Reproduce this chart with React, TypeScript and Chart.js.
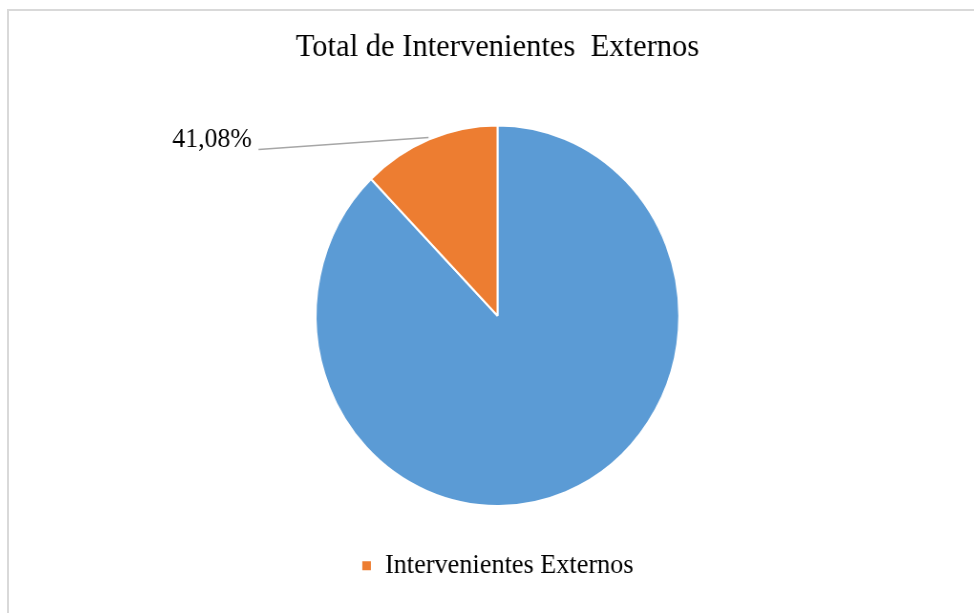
import React, { useEffect, useRef } from "react";
import { Chart, registerables } from "chart.js";

Chart.register(...registerables);

const titleText = "Total de Intervenientes  Externos";
const categories = ["", "Intervenientes Externos"];
const values = [87.75, 12.25];
const sliceColors = ["#5B9BD5", "#ED7D31"];
const dataLabels = ["", "41,08%"];

const FONT = "'Liberation Serif', 'Times New Roman', serif";

const leaderLabelPlugin = {
  id: "leaderLabel",
  afterDatasetsDraw(chart: any) {
    const ctx = chart.ctx;
    const meta = chart.getDatasetMeta(0);
    meta.data.forEach((arc: any, i: number) => {
      const text = dataLabels[i];
      if (!text) return;
      const { x, y, startAngle, endAngle, outerRadius } = arc.getProps(
        ["x", "y", "startAngle", "endAngle", "outerRadius"],
        true
      );
      const mid = (startAngle + endAngle) / 2;
      const ex = x + Math.cos(mid) * (outerRadius + 2);
      const ey = y + Math.sin(mid) * (outerRadius + 2);
      const sx = ex - 178;
      const sy = ey + 12;
      ctx.save();
      ctx.strokeStyle = "#A6A6A6";
      ctx.lineWidth = 1.5;
      ctx.beginPath();
      ctx.moveTo(ex, ey);
      ctx.lineTo(sx, sy);
      ctx.stroke();
      ctx.fillStyle = "#000000";
      ctx.font = `27px ${FONT}`;
      ctx.textAlign = "right";
      ctx.textBaseline = "alphabetic";
      ctx.fillText(text, sx - 7, sy - 2);
      ctx.restore();
    });
  },
};

export default function App() {
  const canvasRef = useRef<HTMLCanvasElement | null>(null);

  useEffect(() => {
    if (!canvasRef.current) return;
    const chart = new Chart(canvasRef.current, {
      type: "pie",
      data: {
        labels: categories,
        datasets: [
          {
            data: values,
            backgroundColor: sliceColors,
            borderColor: "#FFFFFF",
            borderWidth: 2,
          },
        ],
      },
      options: {
        responsive: false,
        animation: false,
        layout: { padding: { top: 0, bottom: 23.5, left: 0, right: 0 } },
        plugins: {
          title: {
            display: true,
            text: titleText,
            color: "#000000",
            font: { family: FONT, size: 32, weight: "normal" },
            padding: { top: 17, bottom: 58 },
          },
          legend: {
            display: true,
            position: "bottom",
            labels: {
              color: "#000000",
              font: { family: FONT, size: 27.5 },
              boxWidth: 11,
              boxHeight: 11,
              padding: 45,
              filter: (item: any) => item.text !== "",
            },
          },
          tooltip: { enabled: false },
        },
      },
      plugins: [leaderLabelPlugin],
    });
    return () => chart.destroy();
  }, []);

  return (
    <div
      style={{
        position: "absolute",
        left: 7,
        top: 9,
        width: 967,
        height: 604,
        overflow: "hidden",
        borderLeft: "2px solid #D9D9D9",
        borderTop: "2px solid #D9D9D9",
        boxSizing: "border-box",
        background: "#FFFFFF",
      }}
    >
      <div style={{ transform: "scaleX(0.955)", transformOrigin: "0 0", width: 1023, height: 602 }}>
        <canvas ref={canvasRef} width={1023} height={602} style={{ display: "block" }} />
      </div>
    </div>
  );
}
